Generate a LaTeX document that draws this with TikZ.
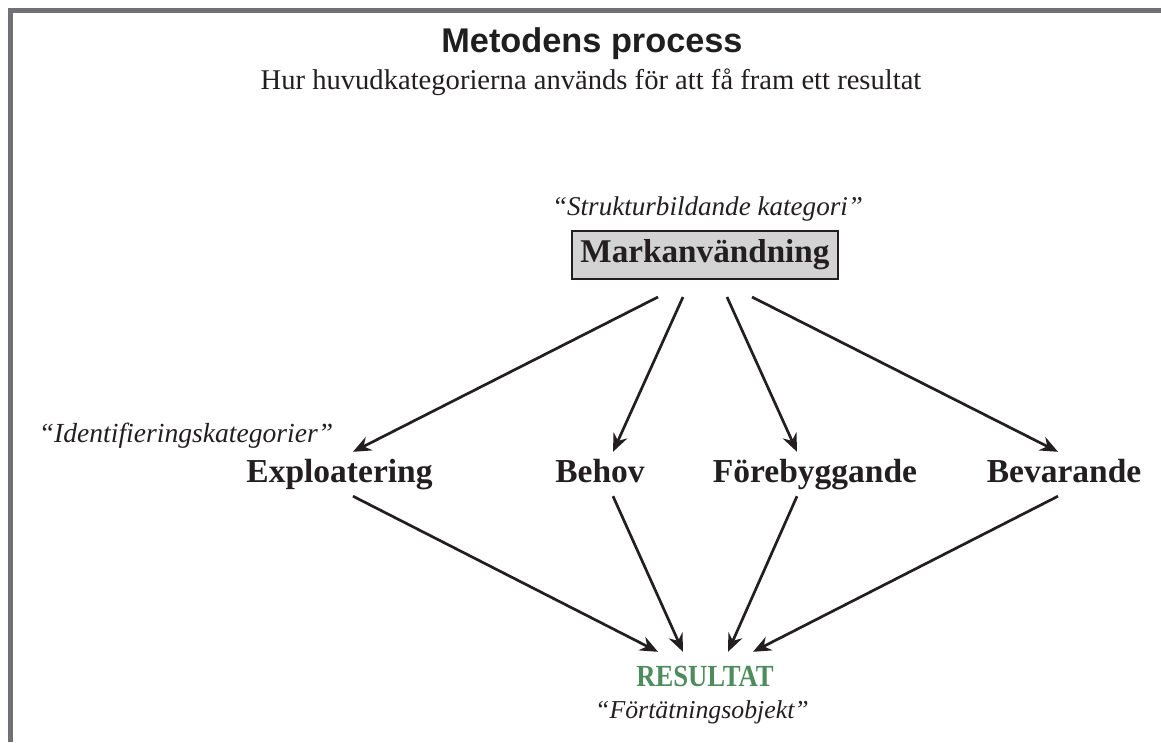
\documentclass[tikz,border=0pt]{standalone}
\usepackage{fontspec}
\setmainfont{Liberation Serif}
\newfontfamily\titlefont{Liberation Sans}
\usetikzlibrary{arrows.meta}
\definecolor{ink}{HTML}{231F20}
\definecolor{frame}{HTML}{707075}
\definecolor{boxgrey}{HTML}{D3D3D3}
\definecolor{resgreen}{HTML}{4E8C5E}
\tikzset{
  txt/.style={inner sep=0pt, anchor=base, text=ink},
  catlabel/.style={anchor=base, text=ink, inner xsep=0pt, inner ysep=7pt,
    text height=23pt, text depth=7pt,
    font=\fontsize{33.5}{36}\selectfont\bfseries},
  quote/.style={inner sep=0pt, anchor=base, text=ink},
  arr/.style={draw=ink, line width=2.7pt, -{Stealth[length=18pt,width=15pt,inset=6pt]}},
  mainbox/.style={draw=ink, line width=2pt, fill=boxgrey, minimum width=266pt,
    minimum height=48pt, inner sep=0pt, text=ink, text height=22.7pt, text depth=6.8pt,
    font=\fontsize{33.2}{36}\selectfont\bfseries}
}
\begin{document}
\begin{tikzpicture}[x=1pt,y=-1pt]
\useasboundingbox (0,0) rectangle (1161,742);
\fill[white] (0,0) rectangle (1161,742);
\draw[frame, line width=5pt, line join=miter] (10,742) -- (10,10.7) -- (1161,10.7);

\node[txt, font=\titlefont\fontsize{34.3}{38}\selectfont\bfseries, text=black!88] (title) at (592,52) {Metodens process};
\node[txt, font=\fontsize{28.6}{32}\selectfont] (sub) at (591,89) {Hur huvudkategorierna används för att få fram ett resultat};

\node[quote, font=\fontsize{27.1}{30}\selectfont\itshape] (strukt) at (707.5,215) {“Strukturbildande kategori”};
\node[mainbox] (mark) at (705,255) {Markanvändning};

\node[quote, font=\fontsize{27.6}{30}\selectfont\itshape] (ident) at (186,442) {“Identifieringskategorier”};

\node[catlabel] (expl) at (339.5,482) {Exploatering};
\node[catlabel] (behov) at (600,482) {Behov};
\node[catlabel] (foreb) at (815,482) {Förebyggande};
\node[catlabel] (bevar) at (1064,482) {Bevarande};

\node[anchor=base, inner xsep=0pt, inner ysep=13pt, text height=21pt, text depth=0pt, text=resgreen,
  font=\fontsize{26.7}{30}\selectfont\bfseries] (res) at (705,686) {\scalebox{1}[1.15]{RESULTAT}};
\node[quote, font=\fontsize{25.8}{30}\selectfont\itshape] (fort) at (702,718) {“Förtätningsobjekt”};

\draw[arr] ([xshift=-47pt,yshift=-17pt]mark.south) -- ([xshift=13.5pt]expl.north);
\draw[arr] ([xshift=-22pt,yshift=-17pt]mark.south) -- ([xshift=13pt]behov.north);
\draw[arr] ([xshift=22pt,yshift=-17pt]mark.south) -- ([xshift=-18pt]foreb.north);
\draw[arr] ([xshift=47pt,yshift=-17pt]mark.south) -- ([xshift=-6pt]bevar.north);

\draw[arr] ([xshift=13.5pt]expl.south) -- ([xshift=-47pt]res.north);
\draw[arr] ([xshift=13pt]behov.south) -- ([xshift=-22pt]res.north);
\draw[arr] ([xshift=-18pt]foreb.south) -- ([xshift=23pt]res.north);
\draw[arr] ([xshift=-6pt]bevar.south) -- ([xshift=48pt]res.north);
\end{tikzpicture}
\end{document}
